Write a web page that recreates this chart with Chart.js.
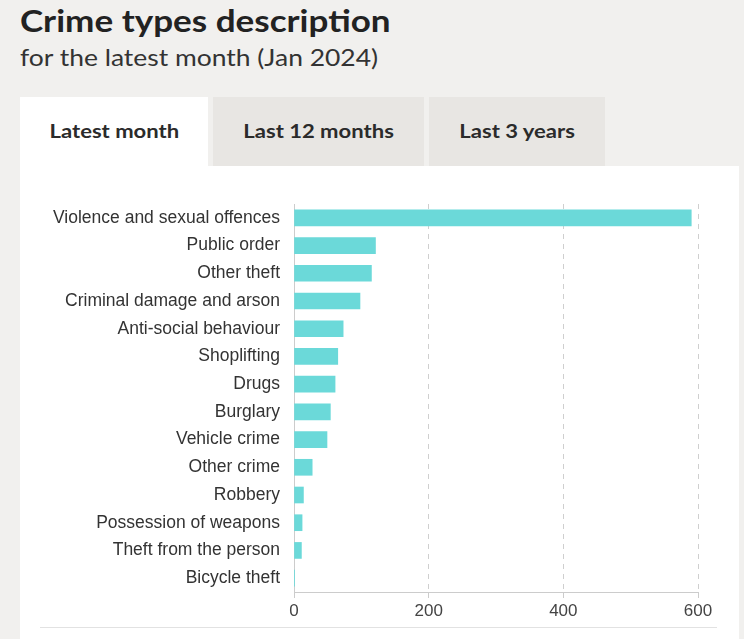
<!DOCTYPE html>
<html>
<head>
<meta charset="utf-8">
<script src="https://cdn.jsdelivr.net/npm/chart.js@4/dist/chart.umd.min.js"></script>
<style>
  html, body { margin: 0; padding: 0; }
  body { width: 744px; height: 639px; background: #f1f0ee; position: relative; overflow: hidden; font-family: Lato, "Open Sans", sans-serif; color: #222; }
  #title { position: absolute; left: 20px; top: 1px; font-size: 31px; font-weight: 700; color: #222; white-space: nowrap; transform: scaleX(1.13); transform-origin: left center; }
  #subtitle { position: absolute; left: 20px; top: 43px; font-size: 23px; color: #333; white-space: nowrap; transform: scaleX(1.15); transform-origin: left center; }
  .tab { position: absolute; top: 97px; height: 66px; display: flex; align-items: center; justify-content: center; background: #e8e6e3; }
  .tab span { font-size: 19.5px; font-weight: 700; color: #2b2b2b; transform: scaleX(1.13); white-space: nowrap; }
  #panel { position: absolute; left: 20px; top: 166px; width: 719px; height: 473px; background: #fff; }
  #sep { position: absolute; left: 40px; top: 627px; width: 677px; height: 1px; background: #e2e2e2; }
  #wrap { position: absolute; left: 20px; top: 166px; width: 719px; height: 460px; }
</style>
</head>
<body>
<div id="title">Crime types description</div>
<div id="subtitle">for the latest month (Jan 2024)</div>
<div class="tab" style="left:20px;width:188px;background:#fff;height:70px;padding-bottom:4px;box-sizing:border-box;"><span>Latest month</span></div>
<div class="tab" style="left:213px;width:211px;height:69px;padding-bottom:3px;box-sizing:border-box;"><span>Last 12 months</span></div>
<div class="tab" style="left:429px;width:176px;height:69px;padding-bottom:3px;box-sizing:border-box;"><span>Last 3 years</span></div>
<div id="panel"></div>
<div id="wrap"><canvas id="c"></canvas></div>
<div id="sep"></div>
<script>
const categories = [
  "Violence and sexual offences",
  "Public order",
  "Other theft",
  "Criminal damage and arson",
  "Anti-social behaviour",
  "Shoplifting",
  "Drugs",
  "Burglary",
  "Vehicle crime",
  "Other crime",
  "Robbery",
  "Possession of weapons",
  "Theft from the person",
  "Bicycle theft"
];
const crimeCounts = [590, 121, 115, 98, 73, 65, 61, 54, 49, 27, 14, 12, 11, 1];
const xTicks = [0, 200, 400, 600];

new Chart(document.getElementById('c'), {
  type: 'bar',
  data: {
    labels: categories,
    datasets: [{
      data: crimeCounts,
      backgroundColor: '#6bd9d9',
      borderWidth: 0,
      barThickness: 16
    }]
  },
  options: {
    indexAxis: 'y',
    responsive: true,
    maintainAspectRatio: false,
    animation: false,
    layout: { padding: { top: 38, right: 41, left: 0, bottom: 0 } },
    plugins: { legend: { display: false }, tooltip: { enabled: false } },
    scales: {
      x: {
        min: 0,
        max: 600,
        afterBuildTicks: s => { s.ticks = xTicks.map(v => ({ value: v })); },
        afterFit: s => { s.height = 34; },
        grid: {
          color: '#cfcfcf',
          drawTicks: true,
          tickLength: 6,
          tickColor: '#cccccc',
          tickBorderDash: []
        },
        border: { display: true, color: '#cccccc', width: 1, dash: [5, 5] },
        ticks: {
          color: '#444',
          font: { family: '"Liberation Sans", Arial, sans-serif', size: 17 },
          padding: 3,
          maxRotation: 0
        }
      },
      y: {
        afterFit: s => { s.width = 274; },
        grid: { display: false, drawTicks: false },
        border: { display: true, color: '#cccccc', width: 1 },
        ticks: {
          color: '#333',
          font: { family: '"Liberation Sans", Arial, sans-serif', size: 17.5 },
          padding: 14,
          autoSkip: false
        }
      }
    }
  }
});
</script>
</body>
</html>
